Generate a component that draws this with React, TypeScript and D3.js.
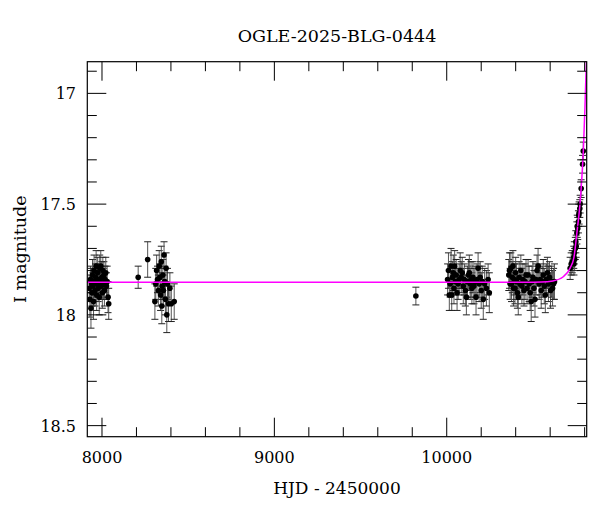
import React from "react";
import * as d3 from "d3";

// ---- data ----
const hjd: number[] = [
  // season 1
  7926, 7930, 7933, 7936, 7939, 7942, 7945, 7948, 7951, 7954, 7957, 7960, 7963, 7966, 7969, 7972, 7975, 7978,
  7981, 7984, 7987, 7990, 7993, 7996, 7999, 8002, 8005, 8008, 8011, 8014, 8018, 8022, 8026, 8030, 8035, 8039,
  // isolated
  8210, 8265,
  // season 2
  8307, 8312, 8317, 8322, 8327, 8332, 8336, 8340, 8344, 8347, 8350, 8353, 8356, 8360, 8364, 8368, 8372, 8376,
  8380, 8386, 8394, 8402, 8419,
  // isolated
  9821,
  // season 3
  10005, 10010, 10015, 10020, 10025, 10029, 10033, 10038, 10042, 10046, 10050, 10055, 10060, 10066, 10072, 10078,
  10084, 10090, 10096, 10102, 10108, 10114, 10120, 10126, 10131, 10136, 10141, 10146, 10152, 10158, 10164, 10170,
  10176, 10182, 10188, 10194, 10200, 10206, 10212, 10220, 10230, 10240, 10247,
  // season 4
  10360, 10364, 10368, 10372, 10376, 10380, 10384, 10388, 10392, 10396, 10400, 10405, 10410, 10415, 10420, 10425,
  10430, 10436, 10442, 10448, 10454, 10460, 10466, 10472, 10478, 10484, 10490, 10495, 10500, 10506, 10512, 10518,
  10524, 10530, 10536, 10542, 10548, 10554, 10560, 10566, 10572, 10578, 10584, 10590, 10596, 10602, 10608, 10614,
  10620, 10625,
  // rise
  10716, 10722, 10728, 10738, 10737, 10740, 10742, 10746, 10749, 10751, 10755, 10757, 10760, 10764, 10766, 10768,
  10772, 10774, 10780, 10788, 10792,
];

const mag: number[] = [
  17.88, 17.93, 17.84, 17.97, 17.86, 17.90, 17.82, 17.87, 17.94, 17.80, 17.85, 17.89, 17.83, 17.78, 17.91, 17.86, 17.81, 17.88,
  17.84, 17.92, 17.79, 17.85, 17.78, 17.87, 17.83, 17.90, 17.80, 17.86, 17.82, 17.89, 17.84, 17.81, 17.87, 17.85, 17.92, 17.95,
  17.83, 17.75,
  17.94, 17.86, 17.80, 17.84, 17.89, 17.78, 17.83, 17.91, 17.76, 17.96, 17.87, 17.82, 17.89, 17.73, 17.85, 17.93, 17.79, 18.0,
  17.86, 17.95, 17.88, 17.95, 17.94,
  17.915,
  17.84, 17.80, 17.91, 17.86, 17.78, 17.91, 17.83, 17.81, 17.88, 17.78, 17.85, 17.82, 17.90, 17.86, 17.84, 17.80,
  17.83, 17.81, 17.87, 17.84, 17.89, 17.92, 17.85, 17.82, 17.81, 17.86, 17.84, 17.88, 17.83, 17.87, 17.85, 17.92,
  17.84, 17.79, 17.86, 17.83, 17.89, 17.85, 17.93, 17.86, 17.88, 17.84, 17.90,
  17.82, 17.80, 17.86, 17.79, 17.86, 17.83, 17.78, 17.88, 17.84, 17.88, 17.81, 17.85, 17.90, 17.92, 17.83, 17.86,
  17.80, 17.87, 17.84, 17.89, 17.85, 17.82, 17.88, 17.82, 17.86, 17.90, 17.94, 17.85, 17.83, 17.88, 17.93, 17.84,
  17.80, 17.78, 17.86, 17.84, 17.89, 17.85, 17.82, 17.87, 17.91, 17.84, 17.81, 17.86, 17.83, 17.89, 17.85, 17.88,
  17.86, 17.85,
  17.79, 17.77, 17.76, 17.77, 17.74, 17.72, 17.75, 17.70, 17.67, 17.69, 17.63, 17.60, 17.61, 17.58, 17.55, 17.54,
  17.52, 17.50, 17.43, 17.32, 17.26,
];

const magErr: number[] = [
  0.06, 0.08, 0.06, 0.09, 0.07, 0.06, 0.07, 0.06, 0.08, 0.07, 0.06, 0.07, 0.06, 0.07, 0.07, 0.06, 0.07, 0.06,
  0.07, 0.08, 0.06, 0.07, 0.07, 0.06, 0.07, 0.07, 0.06, 0.07, 0.06, 0.07, 0.06, 0.07, 0.06, 0.07, 0.07, 0.07,
  0.05, 0.08,
  0.08, 0.07, 0.07, 0.06, 0.07, 0.07, 0.06, 0.07, 0.07, 0.08, 0.06, 0.07, 0.07, 0.06, 0.07, 0.07, 0.07, 0.08,
  0.07, 0.08, 0.07, 0.08, 0.08,
  0.04,
  0.07, 0.08, 0.07, 0.06, 0.08, 0.07, 0.07, 0.08, 0.07, 0.07, 0.06, 0.07, 0.08, 0.07, 0.07, 0.08,
  0.07, 0.07, 0.08, 0.07, 0.07, 0.08, 0.07, 0.07, 0.08, 0.07, 0.08, 0.07, 0.07, 0.08, 0.07, 0.08,
  0.07, 0.07, 0.08, 0.07, 0.08, 0.07, 0.09, 0.07, 0.08, 0.07, 0.09,
  0.07, 0.08, 0.07, 0.07, 0.08, 0.07, 0.07, 0.08, 0.07, 0.07, 0.07, 0.08, 0.07, 0.08, 0.07, 0.07,
  0.07, 0.08, 0.07, 0.07, 0.08, 0.07, 0.07, 0.07, 0.08, 0.08, 0.09, 0.07, 0.07, 0.08, 0.08, 0.07,
  0.07, 0.08, 0.07, 0.07, 0.08, 0.07, 0.07, 0.08, 0.08, 0.07, 0.07, 0.08, 0.07, 0.08, 0.07, 0.08,
  0.07, 0.08,
  0.05, 0.05, 0.05, 0.05, 0.05, 0.05, 0.05, 0.05, 0.05, 0.05, 0.05, 0.05, 0.05, 0.05, 0.05, 0.05,
  0.04, 0.04, 0.04, 0.04, 0.04,
];

// model curve
const modelHjd: number[] = [7900, 8500, 9500, 10300, 10550, 10616, 10676, 10715, 10738, 10755, 10773, 10784, 10793, 10802, 10810, 10816];
const modelMag: number[] = [17.853, 17.853, 17.853, 17.853, 17.852, 17.847, 17.828, 17.79, 17.74, 17.63, 17.50, 17.38, 17.25, 17.06, 16.86, 16.70];

const xMajorTicks: number[] = [8000, 9000, 10000];
const yMajorTicks: number[] = [17, 17.5, 18, 18.5];

const title = "OGLE-2025-BLG-0444";
const xTitle = "HJD - 2450000";
const yTitle = "I magnitude";

export default function App() {
  const W = 600, H = 512;
  const L = 87.3, R = 586.7, T = 61.7, B = 436.7;
  const x = d3.scaleLinear().domain([7914.8, 10812]).range([L, R]);
  const y = d3.scaleLinear().domain([16.857, 18.55]).range([T, B]);

  const xMinor = d3.range(7800, 11000, 200).filter((v) => x(v) >= L - 0.5 && x(v) <= R + 0.5 && v % 1000 !== 0);
  const yMinor = d3.range(16.8, 18.61, 0.1)
    .map((v) => Math.round(v * 10) / 10)
    .filter((v) => y(v) >= T - 0.5 && y(v) <= B + 0.5 && Math.abs(v * 2 - Math.round(v * 2)) > 1e-6);

  const line = d3.line<number>().x((_, i) => x(modelHjd[i])).y((_, i) => y(modelMag[i])).curve(d3.curveMonotoneX);
  const modelPath = line(modelHjd.map((_, i) => i)) || "";

  const font = "'DejaVu Serif', serif";
  const maj = 19, mnr = 9.5;
  const axisColor = "#000";

  return (
    <svg width={W} height={H} style={{ position: "absolute", left: 0, top: 0, background: "#fff" }} fontFamily={font}>
      <defs>
        <clipPath id="plotclip">
          <rect x={L} y={T} width={R - L} height={B - T} />
        </clipPath>
      </defs>
      <rect x={0} y={0} width={W} height={H} fill="#fff" />

      {/* data */}
      <g clipPath="url(#plotclip)">
        {hjd.map((t, i) => {
          const cx = x(t);
          const y1 = y(mag[i] - magErr[i]);
          const y2 = y(mag[i] + magErr[i]);
          return (
            <g key={"e" + i} stroke="#555" strokeWidth={1}>
              <line x1={cx} x2={cx} y1={y1} y2={y2} />
              <line x1={cx - 3.5} x2={cx + 3.5} y1={y1} y2={y1} stroke="#222" />
              <line x1={cx - 3.5} x2={cx + 3.5} y1={y2} y2={y2} stroke="#222" />
            </g>
          );
        })}
        {hjd.map((t, i) => (
          <circle key={"p" + i} cx={x(t)} cy={y(mag[i])} r={2.8} fill="#000" />
        ))}
        <path d={modelPath} fill="none" stroke="#ff00ff" strokeWidth={1.5} />
      </g>

      {/* frame */}
      <rect x={L} y={T} width={R - L} height={B - T} fill="none" stroke={axisColor} strokeWidth={1.2} />

      {/* x ticks */}
      {xMajorTicks.map((v) => (
        <g key={"xm" + v} stroke={axisColor} strokeWidth={1}>
          <line x1={x(v)} x2={x(v)} y1={B} y2={B - maj} />
          <line x1={x(v)} x2={x(v)} y1={T} y2={T + maj} />
        </g>
      ))}
      {xMinor.map((v) => (
        <g key={"xn" + v} stroke={axisColor} strokeWidth={1}>
          <line x1={x(v)} x2={x(v)} y1={B} y2={B - mnr} />
          <line x1={x(v)} x2={x(v)} y1={T} y2={T + mnr} />
        </g>
      ))}
      {/* y ticks */}
      {yMajorTicks.map((v) => (
        <g key={"ym" + v} stroke={axisColor} strokeWidth={1}>
          <line x1={L} x2={L + maj} y1={y(v)} y2={y(v)} />
          <line x1={R} x2={R - maj} y1={y(v)} y2={y(v)} />
        </g>
      ))}
      {yMinor.map((v) => (
        <g key={"yn" + v} stroke={axisColor} strokeWidth={1}>
          <line x1={L} x2={L + mnr} y1={y(v)} y2={y(v)} />
          <line x1={R} x2={R - mnr} y1={y(v)} y2={y(v)} />
        </g>
      ))}

      {/* tick labels */}
      {xMajorTicks.map((v) => (
        <text key={"xl" + v} x={x(v)} y={463} textAnchor="middle" fontSize={16} fill="#000">
          {String(v)}
        </text>
      ))}
      {yMajorTicks.map((v) => (
        <text key={"yl" + v} x={76} y={y(v) + 6} textAnchor="end" fontSize={16} fill="#000">
          {String(v)}
        </text>
      ))}

      {/* titles */}
      <text x={(L + R) / 2} y={41.5} textAnchor="middle" fontSize={17.5} fill="#000">{title}</text>
      <text x={(L + R) / 2} y={494} textAnchor="middle" fontSize={17} fill="#000">{xTitle}</text>
      <text transform={`translate(26,${(T + B) / 2}) rotate(-90)`} textAnchor="middle" fontSize={17.5} fill="#000">
        {yTitle}
      </text>
    </svg>
  );
}
